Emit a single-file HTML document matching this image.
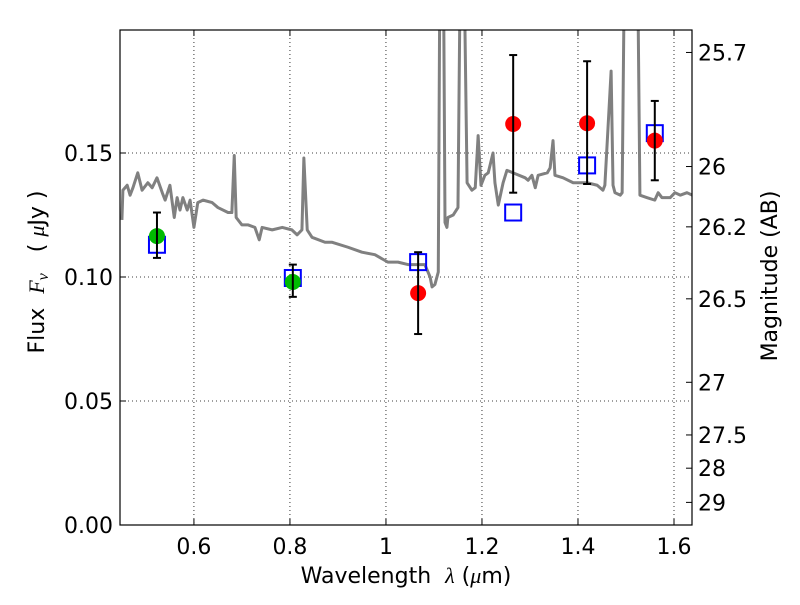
<!DOCTYPE html>
<html><head><meta charset="utf-8"><style>
body{margin:0;background:#fff;}
svg text{font-family:"DejaVu Sans","Liberation Sans",sans-serif;white-space:pre;}
</style></head><body>
<svg id="chart" width="800" height="600" xmlns="http://www.w3.org/2000/svg">
<rect width="800" height="600" fill="#fff"/>
<g id="grid"></g>
<g id="spec"></g>
<g id="phot"></g>
<rect x="120" y="30" width="572" height="495" fill="none" stroke="#000" stroke-width="1.2"/>
<g id="axes"></g>
<text x="406" y="583" font-size="22" text-anchor="middle">Wavelength  <tspan font-family="Liberation Serif" font-style="italic">λ</tspan> (<tspan font-family="Liberation Serif" font-style="italic">μ</tspan>m)</text>
<text transform="translate(44,272) rotate(-90)" font-size="22" text-anchor="middle">Flux  <tspan font-family="Liberation Serif" font-style="italic">F<tspan font-size="16" dy="4">ν</tspan></tspan><tspan dy="-4">   ( </tspan><tspan font-family="Liberation Serif" font-style="italic">μ</tspan>Jy )</text>
<text transform="translate(777,276) rotate(-90)" font-size="22" text-anchor="middle">Magnitude (AB)</text>
</svg>
<script>
const specWave=[0.450,0.452,0.461,0.467,0.473,0.483,0.492,0.504,0.513,0.523,0.534,0.540,0.550,0.559,0.565,0.571,0.577,0.586,0.592,0.600,0.608,0.619,0.638,0.650,0.671,0.679,0.684,0.688,0.700,0.713,0.727,0.736,0.742,0.763,0.784,0.804,0.815,0.825,0.829,0.836,0.846,0.873,0.888,0.921,0.950,0.977,1.004,1.025,1.046,1.081,1.092,1.096,1.102,1.109,1.113,1.119,1.123,1.127,1.129,1.140,1.150,1.156,1.161,1.169,1.179,1.186,1.192,1.198,1.206,1.213,1.223,1.227,1.234,1.244,1.252,1.265,1.290,1.296,1.304,1.311,1.317,1.336,1.342,1.348,1.352,1.369,1.390,1.419,1.440,1.452,1.456,1.469,1.473,1.477,1.488,1.492,1.498,1.523,1.529,1.544,1.560,1.567,1.575,1.592,1.602,1.613,1.627,1.638];
const specFlux=[0.123,0.135,0.137,0.133,0.136,0.142,0.135,0.138,0.136,0.140,0.134,0.131,0.137,0.124,0.132,0.127,0.132,0.127,0.131,0.120,0.130,0.131,0.130,0.128,0.126,0.126,0.149,0.124,0.121,0.121,0.120,0.115,0.120,0.119,0.120,0.119,0.117,0.119,0.148,0.119,0.116,0.114,0.114,0.112,0.110,0.109,0.106,0.106,0.105,0.105,0.100,0.096,0.097,0.102,0.25,0.25,0.122,0.120,0.124,0.125,0.128,0.25,0.25,0.138,0.135,0.136,0.157,0.137,0.141,0.142,0.150,0.138,0.129,0.138,0.143,0.142,0.140,0.139,0.141,0.136,0.141,0.142,0.144,0.155,0.141,0.140,0.138,0.138,0.137,0.135,0.137,0.183,0.137,0.134,0.133,0.134,0.25,0.25,0.133,0.132,0.131,0.134,0.132,0.132,0.134,0.133,0.134,0.133];
const photWave=[0.523,0.806,1.067,1.265,1.419,1.560];
const photFlux=[0.1165,0.098,0.0935,0.1617,0.162,0.155];
const photErrHi=[0.126,0.105,0.110,0.1895,0.187,0.171];
const photErrLo=[0.1077,0.092,0.077,0.134,0.1375,0.139];
const photColor=['#00bb00','#00bb00','red','red','red','red'];
const modelFlux=[0.113,0.0996,0.106,0.126,0.145,0.158];
const xTicks=[0.6,0.8,1.0,1.2,1.4,1.6];
const xTickLabels=['0.6','0.8','1','1.2','1.4','1.6'];
const yTicks=[0,0.05,0.10,0.15];
const yTickLabels=['0.00','0.05','0.10','0.15'];
const magTicks=[25.7,26,26.2,26.5,27,27.5,28,29];

const X0=120,X1=692,Y0=525,Y1=30,xmin=0.446,xmax=1.6375,ymin=0,ymax=0.1996;
const sx=v=>X0+(v-xmin)/(xmax-xmin)*(X1-X0);
const sy=v=>Y0-(v-ymin)/(ymax-ymin)*(Y0-Y1);
const NS='http://www.w3.org/2000/svg';
function mk(tag,attrs,parent){const e=document.createElementNS(NS,tag);for(const k in attrs)e.setAttribute(k,attrs[k]);parent.appendChild(e);return e;}
const grid=document.getElementById('grid'),axes=document.getElementById('axes'),spec=document.getElementById('spec'),phot=document.getElementById('phot');
xTicks.forEach((t,i)=>{const x=sx(t);
 const g=mk('line',{x1:x,x2:x,y1:Y1,y2:Y0,stroke:'#000','stroke-width':0.8,'stroke-dasharray':'1,3'},grid);
 
 
 mk('line',{x1:x,x2:x,y1:Y0,y2:Y0-6,stroke:'#000'},axes);
 mk('line',{x1:x,x2:x,y1:Y1,y2:Y1+6,stroke:'#000'},axes);
 const tx=mk('text',{x:x,y:Y0+29,'font-size':22,'text-anchor':'middle'},axes);tx.textContent=xTickLabels[i];
 
 
});
yTicks.forEach((t,i)=>{const y=sy(t);
 const g=mk('line',{x1:X0,x2:X1,y1:y,y2:y,stroke:'#000','stroke-width':0.8,'stroke-dasharray':'1,3'},grid);
 
 
 mk('line',{x1:X0,x2:X0+6,y1:y,y2:y,stroke:'#000'},axes);
 const tx=mk('text',{x:X0-7,y:y+8,'font-size':22,'text-anchor':'end'},axes);tx.textContent=yTickLabels[i];
 
 
});
magTicks.forEach(m=>{const y=sy(Math.pow(10,(23.9-m)/2.5));
 mk('line',{x1:X1,x2:X1-6,y1:y,y2:y,stroke:'#000'},axes);
 const tx=mk('text',{x:X1+6,y:y+8,'font-size':22},axes);tx.textContent=String(m);
 
 
});
const cp=mk('clipPath',{id:'clip'},document.getElementById('chart'));mk('rect',{x:X0,y:Y1,width:X1-X0,height:Y0-Y1},cp);
spec.setAttribute('clip-path','url(#clip)');
const pl=mk('polyline',{points:specWave.map((w,i)=>sx(w)+','+sy(specFlux[i])).join(' '),fill:'none',stroke:'#808080','stroke-width':3,'stroke-linejoin':'round'},spec);


photWave.forEach((w,i)=>{const x=sx(w);
 const sq=mk('rect',{x:x-8,y:sy(modelFlux[i])-8,width:16,height:16,fill:'none',stroke:'#0000ff','stroke-width':2},phot);
 
 
 const c=mk('circle',{cx:x,cy:sy(photFlux[i]),r:8,fill:photColor[i]},phot);
 
 
 const e=mk('g',{stroke:'#000','stroke-width':2},phot);
 
 
 mk('line',{x1:x,x2:x,y1:sy(photErrHi[i]),y2:sy(photErrLo[i])},e);
 mk('line',{x1:x-4,x2:x+4,y1:sy(photErrHi[i]),y2:sy(photErrHi[i])},e);
 mk('line',{x1:x-4,x2:x+4,y1:sy(photErrLo[i]),y2:sy(photErrLo[i])},e);
});
</script>
</body></html>
